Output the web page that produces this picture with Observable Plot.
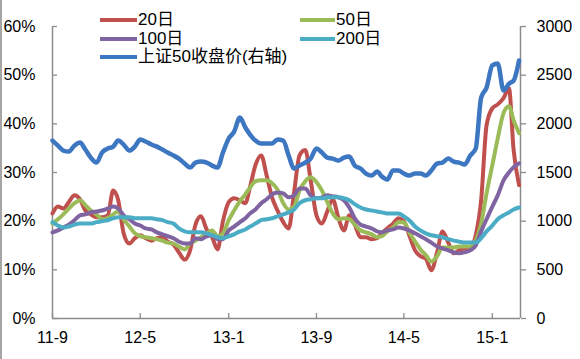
<!DOCTYPE html>
<html>
<head>
<meta charset="utf-8">
<script src="https://cdn.jsdelivr.net/npm/d3@7"></script>
<script src="https://cdn.jsdelivr.net/npm/@observablehq/plot@0.6"></script>
<style>
  body { margin: 0; background: #fff; }
  #wrap { position: relative; width: 580px; height: 359px; overflow: hidden; background: #fff;
    font-family: "Liberation Sans", Arial, "Noto Sans CJK SC", sans-serif; }
  #border { position: absolute; left: 0; top: 0; width: 2px; height: 359px; background: #a6a6a6; }
  .sw { position: absolute; height: 4px; width: 37px; }
  .lt { position: absolute; font-size: 17px; line-height: 18px; color: #000; white-space: nowrap; }
  svg { position: absolute; left: 0; top: 0; }
</style>
</head>
<body>
<div id="wrap"><div id="border"></div></div>
<script>
// half-month sampling grid (1st and 16th of each month)
const months = [
  "2011-09","2011-10","2011-11","2011-12",
  "2012-01","2012-02","2012-03","2012-04","2012-05","2012-06","2012-07","2012-08","2012-09","2012-10","2012-11","2012-12",
  "2013-01","2013-02","2013-03","2013-04","2013-05","2013-06","2013-07","2013-08","2013-09","2013-10","2013-11","2013-12",
  "2014-01","2014-02","2014-03","2014-04","2014-05","2014-06","2014-07","2014-08","2014-09","2014-10","2014-11","2014-12",
  "2015-01","2015-02","2015-03"
];
const sampleDays = ["01", "16"];

// 20日 (%)
const vol20 = [21.6,23.0,22.6,23.9,25.3,24.5,22.2,21.4,20.8,20.8,
  21.2,26.3,24.3,17.5,15.4,16.5,17.1,16.5,16.0,16.5,
  16.7,15.8,15.2,13.6,12.1,14.0,19.3,21.0,18.3,16.7,
  14.2,20.0,23.9,24.7,24.3,23.7,27.0,31.5,33.5,29.4,
  24.9,22.2,19.8,18.5,25.9,33.5,34.6,28.4,21.2,19.5,
  22.0,24.5,20.6,18.1,21.2,19.3,16.7,16.7,16.3,16.5,
  17.5,18.5,19.5,20.6,20.0,17.1,14.0,12.8,12.3,9.9,
  13.6,17.9,15.6,13.4,14.0,14.4,14.4,17.1,24.3,39.7,
  43.2,44.0,45.3,47.3,34.6,27.4];
// 50日 (%)
const vol50 = [19.5,20.4,21.4,22.6,23.7,24.3,23.3,22.2,21.4,20.4,
  20.6,21.4,22.0,20.4,18.9,17.5,16.9,16.7,16.5,16.3,
  16.0,15.6,15.4,14.8,14.2,15.4,16.0,16.7,17.5,18.1,
  16.9,17.5,20.2,22.2,24.1,25.5,26.9,28.2,28.4,28.4,
  27.8,26.5,23.7,22.4,23.0,26.3,28.2,29.0,28.0,26.3,
  23.9,21.6,20.4,20.6,20.4,19.3,18.1,17.7,17.3,16.7,
  16.9,17.9,18.7,19.8,19.8,17.7,15.8,14.2,13.0,11.7,
  12.8,14.6,14.6,14.6,14.8,14.8,14.8,16.0,19.5,25.7,
  31.5,37.0,42.2,43.6,40.7,38.1];
// 100日 (%)
const vol100 = [17.7,18.1,18.7,19.3,20.2,21.2,21.4,21.8,22.0,22.2,
  22.6,23.0,22.6,21.2,20.4,19.5,19.1,18.5,18.3,17.7,
  17.3,16.9,16.5,15.8,15.4,15.4,16.5,16.3,16.9,17.1,
  16.3,16.3,18.1,18.9,19.8,20.6,21.6,22.4,23.7,24.5,
  25.5,25.9,25.7,24.9,25.3,26.7,26.7,25.3,24.7,24.9,
  25.3,25.1,24.9,24.3,22.8,20.6,19.3,18.9,18.5,17.9,
  17.7,18.1,18.3,18.7,18.5,18.1,17.5,16.9,16.3,15.6,
  14.8,14.4,14.0,13.6,13.4,13.6,14.0,15.0,17.9,20.4,
  23.0,25.3,28.4,30.0,31.1,31.9];
// 200日 (%)
const vol200 = [19.8,19.1,18.7,18.9,19.3,19.5,19.5,19.5,19.8,20.0,
  20.2,20.6,20.8,20.8,20.8,20.6,20.6,20.6,20.6,20.4,
  20.2,19.8,19.5,18.5,17.9,17.7,17.7,17.7,17.5,17.1,
  16.7,16.5,16.9,17.3,17.9,18.3,18.9,19.5,20.2,20.4,
  20.6,21.0,21.4,21.8,22.4,23.7,24.3,24.5,24.7,24.7,
  24.9,24.9,24.9,24.7,24.3,23.5,22.8,22.4,22.2,22.0,
  21.8,21.6,21.6,21.6,21.0,20.2,18.9,18.1,17.5,17.1,
  16.9,16.7,16.3,16.0,15.8,15.6,15.6,15.6,16.5,17.9,
  19.1,20.4,21.2,21.8,22.4,22.8];
// 上证50收盘价 (right axis)
const sz50 = [1828,1777,1725,1715,1777,1808,1736,1653,1602,1705,
  1746,1766,1828,1787,1725,1766,1838,1818,1787,1766,
  1736,1705,1674,1643,1592,1551,1602,1612,1602,1571,
  1551,1705,1849,1920,2064,1962,1890,1828,1797,1797,
  1797,1838,1828,1674,1541,1571,1602,1643,1746,1705,
  1653,1643,1623,1653,1664,1571,1541,1489,1469,1510,
  1458,1428,1520,1520,1489,1469,1489,1489,1469,1520,
  1592,1602,1643,1612,1602,1582,1674,1746,2270,2372,
  2600,2620,2342,2413,2444,2650];

const seriesNames = ["20日", "50日", "100日", "200日", "上证50收盘价(右轴)"];
const seriesColors = ["#C0504D", "#9BBB59", "#8064A2", "#4BACC6", "#3D77C2"];

const xTickDates = ["2011-09-01", "2012-05-01", "2013-01-01", "2013-09-01", "2014-05-01", "2015-01-01"];
const xTickLabels = ["11-9", "12-5", "13-1", "13-9", "14-5", "15-1"];
const leftTicks = [0, 0.1, 0.2, 0.3, 0.4, 0.5, 0.6];
const leftTickLabels = ["0%", "10%", "20%", "30%", "40%", "50%", "60%"];
const rightTickLabels = ["0", "500", "1000", "1500", "2000", "2500", "3000"];
const rightMax = 3000;
const leftMax = 0.6;
const xDomain = ["2011-09-01", "2015-03-20"];

const dates = months.flatMap(m => sampleDays.map(d => new Date(`${m}-${d}`)));

const leftSeries = [vol20, vol50, vol100, vol200];
const rows = [];
leftSeries.forEach((vals, k) => vals.forEach((v, i) => rows.push({date: dates[i], y: v / 100, s: seriesNames[k]})));
sz50.forEach((v, i) => rows.push({date: dates[i], y: v / rightMax * leftMax, s: seriesNames[4]}));

const gray = "#8c8c8c";
const font = '"Liberation Sans", Arial, "Noto Sans CJK SC", sans-serif';
const xLabelMap = new Map(xTickDates.map((d, i) => [+new Date(d), xTickLabels[i]]));
const lLabelMap = new Map(leftTicks.map((t, i) => [t, leftTickLabels[i]]));
const rLabelMap = new Map(leftTicks.map((t, i) => [t, rightTickLabels[i]]));
const xTicks = xTickDates.map(d => new Date(d));

const chart = Plot.plot({
  width: 580, height: 359,
  marginLeft: 52, marginRight: 60, marginTop: 26, marginBottom: 41,
  style: {fontFamily: font, fontSize: "16px", color: "#000", background: "transparent", overflow: "visible"},
  x: {type: "utc", domain: xDomain.map(d => new Date(d))},
  y: {domain: [0, leftMax]},
  color: {domain: seriesNames, range: seriesColors},
  marks: [
    // tick marks
    Plot.axisY({anchor: "left", ticks: leftTicks, tickSize: -5, tickFormat: () => "", stroke: gray, strokeWidth: 1.3, label: null}),
    Plot.axisY({anchor: "right", ticks: leftTicks, tickSize: 5, tickFormat: () => "", stroke: gray, strokeWidth: 1.3, label: null}),
    Plot.axisX({anchor: "bottom", ticks: xTicks, tickSize: -5, tickFormat: () => "", stroke: gray, strokeWidth: 1.3, label: null}),
    // labels
    Plot.axisY({anchor: "left", ticks: leftTicks, tickSize: 0, tickPadding: 17, tickFormat: d => lLabelMap.get(d), label: null, fill: "#000"}),
    Plot.axisY({anchor: "right", ticks: leftTicks, tickSize: 0, tickPadding: 16, tickFormat: d => rLabelMap.get(d), label: null, fill: "#000"}),
    Plot.axisX({anchor: "bottom", ticks: xTicks, tickSize: 0, tickPadding: 13, tickFormat: d => xLabelMap.get(+d), label: null, fill: "#000"}),
    // axis lines
    Plot.ruleY([0], {stroke: gray, strokeWidth: 1.5}),
    Plot.ruleX([new Date(xDomain[0])], {stroke: gray, strokeWidth: 1.5}),
    Plot.ruleX([new Date(xDomain[1])], {stroke: gray, strokeWidth: 1.5}),
    // series
    ...seriesNames.map((name, k) => Plot.line(rows.filter(r => r.s === name), {
      x: "date", y: "y", stroke: "s", strokeWidth: k === 4 ? 4.5 : 4, curve: "monotone-x", strokeLinejoin: "round"
    }))
  ]
});
const wrap = document.getElementById("wrap");
wrap.appendChild(chart);

// legend overlay
const legendPos = [[100, 20], [300, 20], [100, 38.5], [300, 38.5], [100, 57]];
seriesNames.forEach((name, k) => {
  const [lx, ly] = legendPos[k];
  const sw = document.createElement("div");
  sw.className = "sw";
  sw.style.left = lx + "px";
  sw.style.top = (ly - 2) + "px";
  sw.style.width = (k % 2 === 1 ? 35 : 37) + "px";
  sw.style.background = seriesColors[k];
  wrap.appendChild(sw);
  const t = document.createElement("div");
  t.className = "lt";
  t.style.left = (lx + (k % 2 === 1 ? 36 : 38)) + "px";
  t.style.top = (ly - 9) + "px";
  t.textContent = name;
  wrap.appendChild(t);
});
</script>
</body>
</html>
